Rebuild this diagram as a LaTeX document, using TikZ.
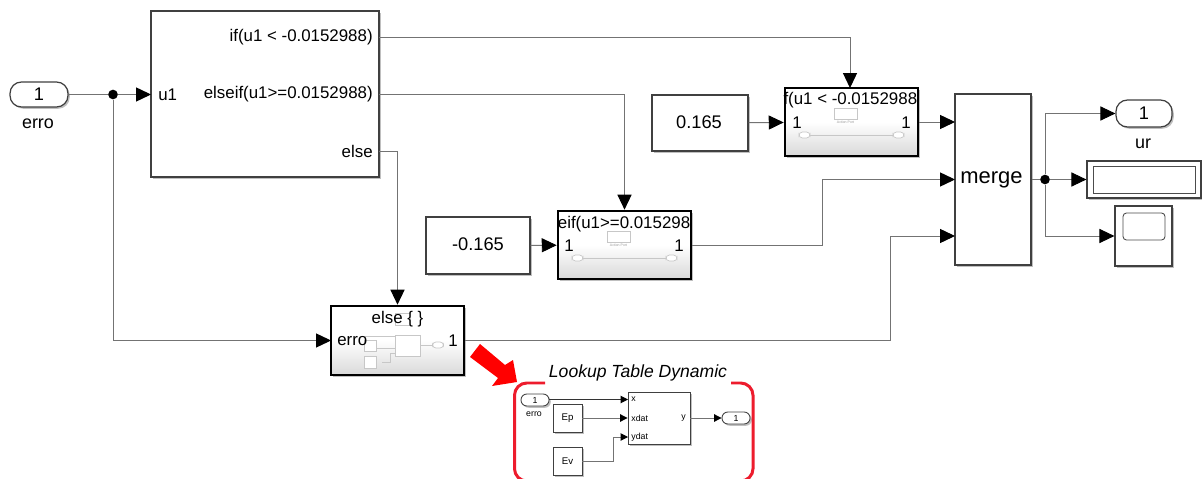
\documentclass[tikz,border=0pt]{standalone}
\usepackage{fontspec}
\setmainfont{Liberation Sans}
\usepackage{xcolor}
\usetikzlibrary{arrows.meta,calc,shadows}
\definecolor{wiregray}{RGB}{115,115,115}
\definecolor{framered}{RGB}{237,28,45}
\def\px{0.02cm}
\tikzset{
    blk/.style={draw=black!75, fill=white, line width=0.7pt, inner sep=0pt,
        drop shadow={shadow xshift=1pt, shadow yshift=-1pt, opacity=0.25, fill=black}},
    actionblk/.style={blk, draw=black, line width=1.5pt, top color=white, bottom color=black!15, middle color=white},
    port/.style={blk, rounded corners=6.5pt},
    miniport/.style={blk, rounded corners=3.3pt, line width=0.5pt},
    wire/.style={draw=wiregray, line width=0.55pt, -{Triangle[length=8.5pt,width=8pt,color=black]}},
    plain/.style={draw=wiregray, line width=0.55pt},
    miniwire/.style={draw=wiregray, line width=0.55pt, -{Triangle[length=4.2pt,width=4.2pt,color=black]}},
    dot/.style={circle, fill=black, inner sep=0pt, minimum size=5.5pt},
    lbl/.style={inner sep=0pt, font=\fontsize{9.6}{11}\selectfont},
    outlbl/.style={inner sep=0pt, font=\fontsize{10.2}{12}\selectfont},
    big/.style={inner sep=0pt, font=\fontsize{10.4}{12}\selectfont},
    tiny/.style={inner sep=0pt, font=\fontsize{5}{6}\selectfont},
    ghost/.style={draw=black!22, fill=white, line width=0.4pt},
}
\begin{document}
\begin{tikzpicture}[x=\px, y=-\px]
    \useasboundingbox (0,0) rectangle (1202,479);

    % Main blocks
    \node[port, minimum width=58*\px, minimum height=25*\px] (errin) at (39,94.5) {\fontsize{10.4}{12}\selectfont 1};
    \node[outlbl] (errlbl) at (38,124) {erro};
    \node[blk, minimum width=228*\px, minimum height=166*\px] (ifblk) at (265,94) {};
    \node[blk, minimum width=96*\px, minimum height=56*\px] (constp) at (700,123) {};
    \node[big] (constptxt) at (699,122) {0.165};
    \node[blk, minimum width=104*\px, minimum height=57*\px] (constn) at (478,245.5) {};
    \node[big] (constntxt) at (478,244) {-0.165};
    \node[actionblk, minimum width=133*\px, minimum height=68*\px] (actone) at (851.5,122) {};
    \node[actionblk, minimum width=133*\px, minimum height=68*\px] (acttwo) at (624.5,245) {};
    \node[actionblk, minimum width=133*\px, minimum height=69*\px] (actelse) at (397.5,340.5) {};
    \node[blk, minimum width=76*\px, minimum height=171*\px] (mergeblk) at (993,179.5) {};
    \node[inner sep=0pt, font=\fontsize{12.5}{14}\selectfont] (mergetxt) at (991.5,180) {merge};
    \node[port, minimum width=56*\px, minimum height=27*\px] (urout) at (1144,113.5) {\fontsize{10.4}{12}\selectfont 1};
    \node[outlbl] (urlbl) at (1143,144) {ur};
    \node[blk, minimum width=114*\px, minimum height=37*\px] (disp) at (1144,179.5) {};
    \node[draw=black!70, line width=0.4pt, inner sep=0pt, minimum width=102*\px, minimum height=27*\px] (dispin) at (1144,179.5) {};
    \node[blk, minimum width=57*\px, minimum height=60*\px] (scopeblk) at (1143.5,236) {};
    \node[draw=black!70, rounded corners=2pt, line width=0.5pt, inner sep=0pt, minimum width=42*\px, minimum height=27*\px] (scopein) at (1144,226.5) {};

    % Labels on the if block
    \node[lbl, anchor=west] (ifu) at (158,94.5) {u1};
    \node[lbl, anchor=east] (ifa) at (373,37.5) {if(u1 < -0.0152988)};
    \node[lbl, anchor=east] (ifb) at (373,94.5) {elseif(u1>=0.0152988)};
    \node[lbl, anchor=east] (ifc) at (373,151.5) {else};

    % Faint contents of the action blocks
    \foreach \blk/\nm in {actone/a, acttwo/b} {
        \begin{scope}[shift={(\blk.center)}]
            \draw[black!22, line width=0.4pt] (-47,13) -- (47,13);
            \node[ghost, rounded corners=2pt, minimum width=11*\px, minimum height=6*\px, inner sep=0pt] (pill\nm l) at (-47,13) {};
            \node[ghost, rounded corners=2pt, minimum width=11*\px, minimum height=6*\px, inner sep=0pt] (pill\nm r) at (47,13) {};
            \node[ghost, minimum width=23*\px, minimum height=11*\px, inner sep=0pt] (pict\nm) at (-6,-8) {};
            \node[inner sep=0pt, text=black!40, font=\fontsize{2}{2}\selectfont] (picl\nm) at (-6,0) {Action Port};
        \end{scope}
    }
    \node[lbl, anchor=east] (actonetxt) at (917.5,100) {f(u1 < -0.0152988};
    \node[lbl, anchor=west] (actonel) at (792,123) {1};
    \node[lbl, anchor=east] (actoner) at (911,123) {1};
    \node[lbl, anchor=east] (acttwotxt) at (690.5,224) {eif(u1>=0.015298};
    \node[lbl, anchor=west] (acttwol) at (564,246) {1};
    \node[lbl, anchor=east] (acttwor) at (684,246) {1};

    % Faint contents of the else block
    \draw[black!22, line width=0.4pt] (365,336) -- (395,336) (366,348) -- (395,348) (382,362) -- (390,362) -- (390,353) -- (395,353) (420,345) -- (433,345);
    \node[ghost, minimum width=12*\px, minimum height=11*\px, inner sep=0pt] (elsea) at (370,346) {};
    \node[ghost, minimum width=12*\px, minimum height=12*\px, inner sep=0pt] (elseb) at (370,362) {};
    \node[ghost, minimum width=25*\px, minimum height=21*\px, inner sep=0pt] (elsec) at (407.5,345.5) {};
    \node[ghost, rounded corners=2pt, minimum width=11*\px, minimum height=6*\px, inner sep=0pt] (elsed) at (438,345) {};
    \node[ghost, minimum width=15*\px, minimum height=12*\px, inner sep=0pt] (elsee) at (403,319) {};
    \node[lbl] (actelsetxt) at (397.5,319) {else \{ \}};
    \node[lbl, anchor=west] (actelsel) at (337,341) {erro};
    \node[lbl, anchor=east] (actelser) at (458,341) {1};

    % Ports and junctions
    \node[dot] (juncin) at (113,94.5) {};
    \node[dot] (juncout) at (1045,179.5) {};
    \coordinate (ifina) at (151,94.5);
    \coordinate (ifouta) at (379,37.5);
    \coordinate (ifoutb) at (379,94.5);
    \coordinate (ifoutc) at (379,151.5);
    \coordinate (elsein) at (331,340.5);
    \coordinate (actonetop) at (850,88);
    \coordinate (mergea) at (955,122);
    \coordinate (mergeb) at (955,179.5);
    \coordinate (mergec) at (955,236);

    % Wires
    \draw[plain] (errin) -- (juncin);
    \draw[wire] (juncin) -- (ifina);
    \draw[wire] (juncin) |- (elsein);
    \draw[wire] (ifouta) -| (actonetop);
    \draw[wire] (ifoutb) -| (acttwo.north);
    \draw[wire] (ifoutc) -| (actelse.north);
    \draw[wire] (constp) -- (actone);
    \draw[wire] (constn) -- (acttwo);
    \draw[wire] (actone.east) -- (mergea);
    \draw[wire] (acttwo.east) -- ++(130,0) |- (mergeb);
    \draw[wire] (actelse.east) -- ++(425,0) |- (mergec);
    \draw[plain] (mergeblk.east) -- (juncout);
    \draw[wire] (juncout) |- (urout.west);
    \draw[wire] (juncout) -- (disp.west);
    \draw[wire] (juncout) |- (scopeblk.west);

    % Red arrow
    \fill[red] (480,344) -- (505,365) -- (513,360) -- (517,382) -- (492,386) -- (498,378) -- (470,357) -- cycle;

    % Lookup table frame
    \draw[framered, line width=1.7pt, rounded corners=7pt] (545,383) -- (514.5,383) -- (514.5,481) -- (530,481);
    \draw[framered, line width=1.7pt, rounded corners=7pt] (731,383) -- (753,383) -- (753,481) -- (740,481);
    \node[inner sep=0pt, font=\fontsize{10}{12}\itshape] (lookuptitle) at (638,373) {Lookup Table Dynamic};

    % Lookup table detail
    \node[miniport, minimum width=28*\px, minimum height=12*\px] (minierr) at (535,400) {\fontsize{5}{6}\selectfont 1};
    \node[tiny] (minierrlbl) at (534,414) {erro};
    \node[blk, line width=0.5pt, minimum width=29*\px, minimum height=28*\px] (ep) at (567.5,418) {\fontsize{5.5}{6}\selectfont Ep};
    \node[blk, line width=0.5pt, minimum width=29*\px, minimum height=28*\px] (ev) at (567.5,461) {\fontsize{5.5}{6}\selectfont Ev};
    \node[blk, line width=0.5pt, minimum width=62*\px, minimum height=52*\px] (lut) at (659,418) {};
    \node[tiny, anchor=west] (lutx) at (631,399.5) {x};
    \node[tiny, anchor=west] (lutxd) at (631,418) {xdat};
    \node[tiny, anchor=west] (lutyd) at (631,437) {ydat};
    \node[tiny, anchor=east] (luty) at (686,418) {y};
    \node[miniport, minimum width=28*\px, minimum height=12*\px] (miniout) at (736,418) {\fontsize{5}{6}\selectfont 1};
    \coordinate (lutinx) at (628,399.5);
    \coordinate (lutiny) at (628,437);
    \draw[miniwire, draw=black!80] (minierr.east |- lutinx) -- (lutinx);
    \draw[miniwire] (ep) -- (lut);
    \draw[miniwire] (ev.east) -- ++(31,0) |- (lutiny);
    \draw[miniwire] (lut) -- (miniout);
\end{tikzpicture}
\end{document}
